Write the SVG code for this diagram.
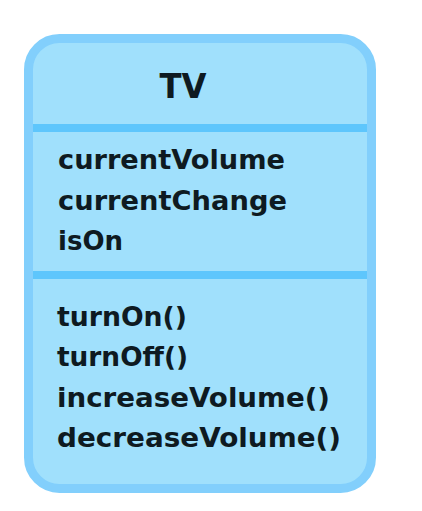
<svg xmlns="http://www.w3.org/2000/svg" width="422" height="511" viewBox="0 0 422 511">
<style>
.box{fill:#A0E0FC;stroke:#82CFFC;stroke-width:9}
.div{stroke:#5EC6FC;stroke-width:8}
.t{font-family:"DejaVu Sans","Noto Sans",sans-serif;font-weight:700;fill:#0E1A21}
.title{font-size:34px}
.m{font-size:26.5px}
</style>
<rect width="422" height="511" fill="#FFFFFF"/>
<g id="tv">
<rect class="box" x="28.5" y="38.5" width="343" height="450" rx="31"/>
<line class="div" x1="33" y1="128" x2="367" y2="128"/>
<line class="div" x1="33" y1="275" x2="367" y2="275"/>
<text class="t title" x="159.5" y="97.5" textLength="47" lengthAdjust="spacingAndGlyphs">TV</text>
<text class="t m" x="58" y="169" textLength="227" lengthAdjust="spacingAndGlyphs">currentVolume</text>
<text class="t m" x="58" y="209.5" textLength="229" lengthAdjust="spacingAndGlyphs">currentChange</text>
<text class="t m" x="58" y="250" textLength="65" lengthAdjust="spacingAndGlyphs">isOn</text>
<text class="t m" x="57" y="326" textLength="130" lengthAdjust="spacingAndGlyphs">turnOn()</text>
<text class="t m" x="57" y="366" textLength="131" lengthAdjust="spacingAndGlyphs">turnOff()</text>
<text class="t m" x="57" y="407" textLength="273" lengthAdjust="spacingAndGlyphs">increaseVolume()</text>
<text class="t m" x="57" y="447" textLength="284" lengthAdjust="spacingAndGlyphs">decreaseVolume()</text>
</g>
</svg>
